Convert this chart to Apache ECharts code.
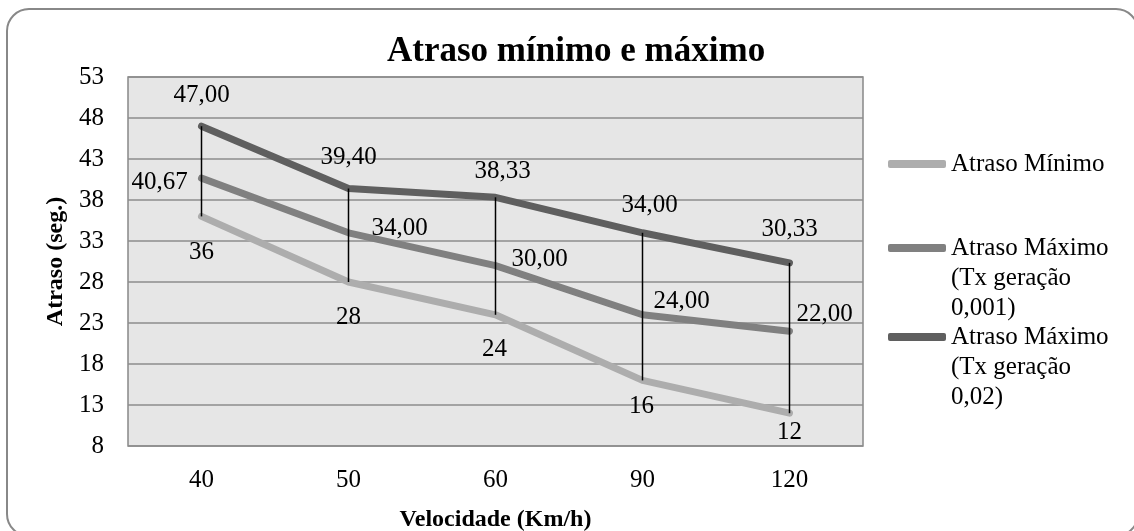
<!DOCTYPE html>
<html>
<head>
<meta charset="utf-8">
<title>Atraso mínimo e máximo</title>
<script src="https://cdn.jsdelivr.net/npm/echarts@6/dist/echarts.min.js"></script>
<style>
  html, body { margin: 0; padding: 0; background: #fff; }
  #chart { width: 1134px; height: 531px; }
</style>
</head>
<body>
<div id="chart"></div>
<script>
// dados
const velocidades = ['40', '50', '60', '90', '120']
const atrasoMin = [36, 28, 24, 16, 12]
const atrasoMax001 = [40.67, 34.00, 30.00, 24.00, 22.00]
const atrasoMax002 = [47.00, 39.40, 38.33, 34.00, 30.33]

const nomeMin = 'Atraso Mínimo'
const nomeMax001 = 'Atraso Máximo (Tx geração 0,001)'
const nomeMax002 = 'Atraso Máximo (Tx geração 0,02)'

// deslocamento dos rótulos (px) em relação ao ponto, como no Excel
const offMin = [[0, 36], [0, 35], [-1, 35], [-1, 26], [0, 19]]
const offMax001 = [[-42, 4], [51, -4], [44, -6], [39, -13], [35, -17]]
const offMax002 = [[0, -31], [0, -31], [7, -26], [7, -27], [0, -33]]

const serif = 'Liberation Serif, Times New Roman, serif'

const fmt = (v, dec) => dec ? v.toFixed(2).replace('.', ',') : String(v)

function pontos(values, offs, dec) {
  return values.map((v, i) => ({
    value: v,
    label: { offset: offs[i], formatter: () => fmt(v, dec) }
  }))
}

function serieLinha(name, values, offs, dec, color) {
  return {
    name,
    type: 'line',
    data: pontos(values, offs, dec),
    symbol: 'circle',
    symbolSize: 2,
    showSymbol: true,
    color,
    itemStyle: { color },
    lineStyle: { width: 7, color, cap: 'round', join: 'round' },
    label: {
      show: true,
      position: 'inside',
      align: 'center',
      verticalAlign: 'middle',
      fontFamily: serif,
      fontSize: 25,
      color: '#000'
    },
    emphasis: { disabled: true },
    animation: false,
    z: 3
  }
}

// linhas de máximo/mínimo (traço vertical preto em cada categoria)
const hiLo = velocidades.map((c, i) => [i, atrasoMin[i], atrasoMax002[i]])

// legenda com o ícone alinhado à primeira linha do texto
function legenda(name, top) {
  const parts = name.replace(' (', '\n(').replace('geração ', 'geração\n').split('\n')
  const blank = new Array(parts.length - 1).fill('')
  const txt = blank.concat(parts).join('\n')
  return {
    data: [name],
    left: 888,
    top,
    padding: 0,
    orient: 'vertical',
    icon: 'roundRect',
    itemWidth: 58,
    itemHeight: 8,
    selectedMode: false,
    formatter: () => txt,
    textStyle: {
      fontFamily: serif,
      fontSize: 25,
      color: '#000',
      lineHeight: 30
    }
  }
}

const chart = echarts.init(document.getElementById('chart'), null, { renderer: 'canvas' })

chart.setOption({
  backgroundColor: '#fff',
  animation: false,
  graphic: [{
    type: 'rect',
    shape: { x: 7, y: 9, width: 1131, height: 527, r: 22 },
    style: { fill: 'none', stroke: '#888', lineWidth: 2 },
    z: -1
  }],
  title: {
    text: 'Atraso mínimo e máximo',
    left: 387,
    top: 34,
    padding: 0,
    textStyle: { fontFamily: serif, fontSize: 35, fontWeight: 'bold', color: '#000' }
  },
  legend: [
    legenda(nomeMin, 149),
    legenda(nomeMax001, 173),
    legenda(nomeMax002, 262)
  ],
  grid: {
    left: 128,
    top: 77,
    width: 735,
    height: 369,
    containLabel: false,
    outerBoundsMode: 'none',
    show: true,
    backgroundColor: '#e6e6e6',
    borderColor: '#888',
    borderWidth: 1.5
  },
  xAxis: {
    type: 'category',
    data: velocidades,
    boundaryGap: true,
    axisLine: { show: false },
    axisTick: { show: false },
    axisLabel: { margin: 22, fontFamily: serif, fontSize: 25, color: '#000' },
    name: 'Velocidade (Km/h)',
    nameLocation: 'middle',
    nameGap: 62,
    nameTextStyle: { fontFamily: serif, fontSize: 24, fontWeight: 'bold', color: '#000' }
  },
  yAxis: {
    type: 'value',
    min: 8,
    max: 53,
    interval: 5,
    axisLine: { show: false },
    axisTick: { show: false },
    axisLabel: { margin: 24, fontFamily: serif, fontSize: 25, color: '#000' },
    splitLine: { show: true, lineStyle: { color: '#8c8c8c', width: 1.5 } },
    name: 'Atraso (seg.)',
    nameLocation: 'middle',
    nameGap: 60,
    nameTextStyle: { fontFamily: serif, fontSize: 24, fontWeight: 'bold', color: '#000' }
  },
  series: [
    serieLinha(nomeMin, atrasoMin, offMin, false, '#adadad'),
    serieLinha(nomeMax001, atrasoMax001, offMax001, true, '#808080'),
    serieLinha(nomeMax002, atrasoMax002, offMax002, true, '#5f5f5f'),
    {
      type: 'custom',
      data: hiLo,
      silent: true,
      z: 4,
      renderItem(params, api) {
        const a = api.coord([api.value(0), api.value(1)])
        const b = api.coord([api.value(0), api.value(2)])
        return {
          type: 'line',
          shape: { x1: a[0], y1: a[1], x2: b[0], y2: b[1] },
          style: { stroke: '#000', lineWidth: 1.5 }
        }
      }
    }
  ]
})
</script>
</body>
</html>
